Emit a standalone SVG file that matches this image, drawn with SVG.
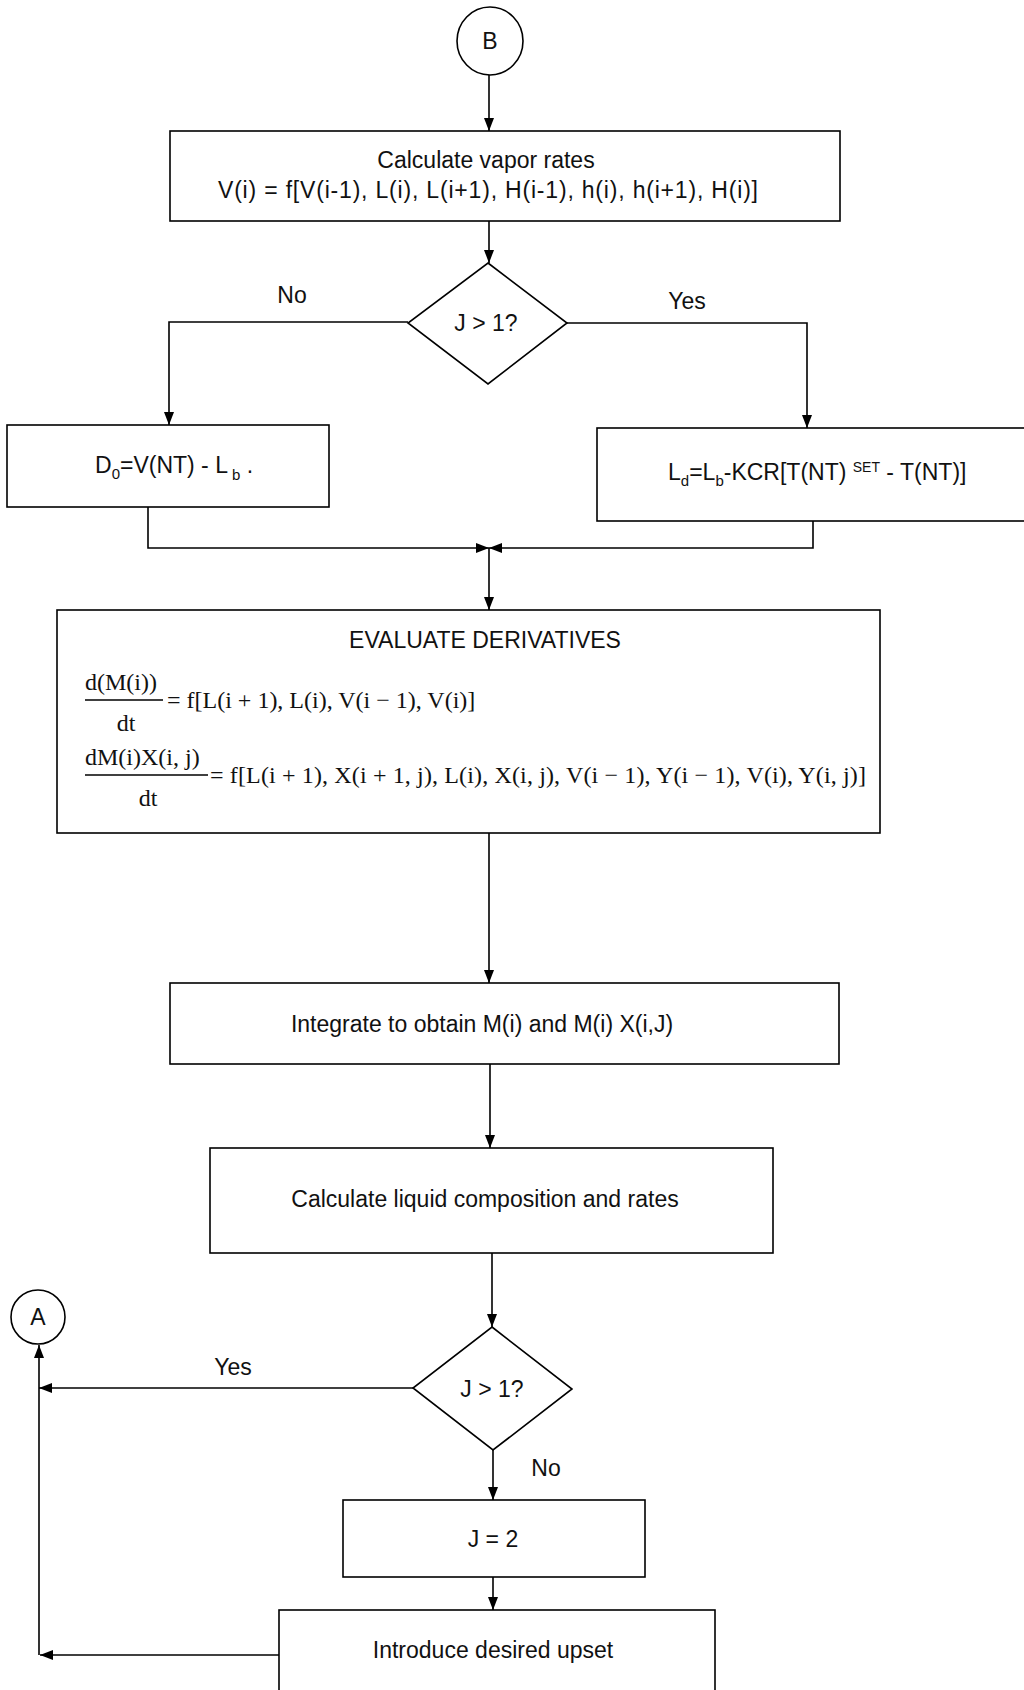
<svg xmlns="http://www.w3.org/2000/svg" width="1024" height="1690" viewBox="0 0 1024 1690">
<defs>
<style>
.box{fill:#fff;stroke:#000;stroke-width:1.6}
.t{font-family:"Liberation Sans",Arial,sans-serif;font-size:23px;fill:#111}
.m{font-family:"Liberation Serif","Times New Roman",serif;font-size:24px;fill:#111}
.c{fill:none;stroke:#000;stroke-width:1.6}
.mid{text-anchor:middle}
</style>
<marker id="ah" markerWidth="13" markerHeight="10" refX="13" refY="5" orient="auto" markerUnits="userSpaceOnUse"><path d="M0,0 L13,5 L0,10 z" fill="#000"/></marker>
</defs>
<rect width="1024" height="1690" fill="#fff"/>

<g id="connectors">
<path class="c" d="M489,75 V131" marker-end="url(#ah)"/>
<path class="c" d="M489,221 V263" marker-end="url(#ah)"/>
<path class="c" d="M408,322 H169 V425" marker-end="url(#ah)"/>
<path class="c" d="M567,323 H807 V428" marker-end="url(#ah)"/>
<path class="c" d="M148,507 V548 H489" marker-end="url(#ah)"/>
<path class="c" d="M813,521 V548 H489" marker-end="url(#ah)"/>
<path class="c" d="M489,548 V610" marker-end="url(#ah)"/>
<path class="c" d="M489,833 V983" marker-end="url(#ah)"/>
<path class="c" d="M490,1064 V1148" marker-end="url(#ah)"/>
<path class="c" d="M492,1253 V1327" marker-end="url(#ah)"/>
<path class="c" d="M413,1388 H39" marker-end="url(#ah)"/>
<path class="c" d="M493,1450 V1500" marker-end="url(#ah)"/>
<path class="c" d="M493,1577 V1610" marker-end="url(#ah)"/>
<path class="c" d="M279,1655 H40" marker-end="url(#ah)"/>
<path class="c" d="M39,1655 V1345" marker-end="url(#ah)"/>
<text class="t mid" x="292" y="303">No</text>
<text class="t mid" x="687" y="309">Yes</text>
<text class="t mid" x="233" y="1375">Yes</text>
<text class="t mid" x="546" y="1476">No</text>
</g>

<g id="connector-B">
<ellipse class="box" cx="490" cy="41" rx="33" ry="34"/>
<text class="t mid" x="490" y="49">B</text>
</g>

<g id="calc-vapor">
<rect class="box" x="170" y="131" width="670" height="90"/>
<text class="t mid" x="486" y="168">Calculate vapor rates</text>
<text class="t mid" x="488" y="198" textLength="540" lengthAdjust="spacing">V(i) = f[V(i-1), L(i), L(i+1), H(i-1), h(i), h(i+1), H(i)]</text>
</g>

<g id="decision-1">
<polygon class="box" points="488,263 567,323 488,384 408,323"/>
<text class="t mid" x="486" y="331">J &gt; 1?</text>
</g>

<g id="distillate">
<rect class="box" x="7" y="425" width="322" height="82"/>
<text class="t" x="95" y="473">D<tspan font-size="15" dy="6">0</tspan><tspan dy="-6">=V(NT) - L</tspan><tspan font-size="15" dy="7"> b</tspan><tspan dy="-7"> .</tspan></text>
</g>

<g id="reflux">
<rect class="box" x="597" y="428" width="440" height="93"/>
<text class="t" x="668" y="480">L<tspan font-size="15" dy="6">d</tspan><tspan dy="-6">=L</tspan><tspan font-size="15" dy="6">b</tspan><tspan dy="-6">-KCR[T(NT) </tspan><tspan font-size="14" dy="-8">SET</tspan><tspan dy="8"> - T(NT)]</tspan></text>
</g>

<g id="evaluate">
<rect class="box" x="57" y="610" width="823" height="223"/>
<text class="t mid" x="485" y="648">EVALUATE DERIVATIVES</text>
<text class="m" x="85" y="690" font-size="25">d(M(i))</text>
<line x1="85" y1="700" x2="163" y2="700" stroke="#000" stroke-width="1.4"/>
<text class="m mid" x="126" y="731" font-size="25">dt</text>
<text class="m" x="167" y="708">= f[L(i + 1), L(i), V(i − 1), V(i)]</text>
<text class="m" x="85" y="765" font-size="25">dM(i)X(i, j)</text>
<line x1="85" y1="775" x2="208" y2="775" stroke="#000" stroke-width="1.4"/>
<text class="m mid" x="148" y="806" font-size="25">dt</text>
<text class="m" x="210" y="783" textLength="656" lengthAdjust="spacing">= f[L(i + 1), X(i + 1, j), L(i), X(i, j), V(i − 1), Y(i − 1), V(i), Y(i, j)]</text>
</g>

<g id="integrate">
<rect class="box" x="170" y="983" width="669" height="81"/>
<text class="t mid" x="482" y="1032">Integrate to obtain M(i) and M(i) X(i,J)</text>
</g>

<g id="calc-liquid">
<rect class="box" x="210" y="1148" width="563" height="105"/>
<text class="t mid" x="485" y="1207">Calculate liquid composition and rates</text>
</g>

<g id="decision-2">
<polygon class="box" points="492,1327 572,1389 493,1450 413,1388"/>
<text class="t mid" x="492" y="1397">J &gt; 1?</text>
</g>

<g id="connector-A">
<ellipse class="box" cx="38" cy="1317" rx="27" ry="27"/>
<text class="t mid" x="38" y="1325">A</text>
</g>

<g id="set-j">
<rect class="box" x="343" y="1500" width="302" height="77"/>
<text class="t mid" x="493" y="1547">J = 2</text>
</g>

<g id="upset">
<rect class="box" x="279" y="1610" width="436" height="100"/>
<text class="t mid" x="493" y="1658">Introduce desired upset</text>
</g>
</svg>
